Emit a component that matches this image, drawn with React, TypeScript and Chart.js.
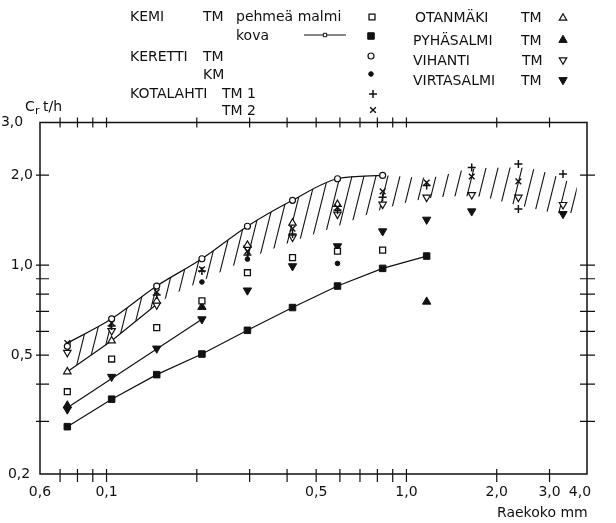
import React, { useEffect, useRef } from 'react';
import { Chart, registerables } from 'chart.js';
import { drawPoint } from 'chart.js/helpers';

Chart.register(...registerables);

// Sieve openings (mm) of the measured size fractions
const sieveMm = [0.074, 0.104, 0.147, 0.208, 0.295, 0.417, 0.589, 0.833, 1.168, 1.651, 2.362, 3.327];

// Capacity C_r (t/h) per size fraction, null where no reading
const kemiSoft = [0.377, 0.485, 0.618, 0.759, 0.943, 1.059, 1.113, 1.122, null, null, null, null];
const kemiHard = [0.288, 0.356, 0.43, 0.504, 0.605, 0.721, 0.851, 0.975, 1.072, null, null, null];
const kerettiTM = [0.535, 0.661, 0.851, 1.05, 1.349, 1.647, 1.945, 1.995, null, null, null, null];
const kerettiKM = [null, null, null, 0.878, 1.047, null, 1.013, null, null, null, null, null];
const kotalahtiTM1 = [null, 0.626, 0.794, 0.955, 1.08, 1.27, 1.525, 1.686, 1.848, 2.122, 2.18, 2.016];
const kotalahtiTM1Repeat = [null, null, null, null, null, null, null, null, null, null, 1.54, null];
const kotalahtiTM2 = [0.548, 0.641, 0.813, 0.968, 1.113, 1.325, 1.56, 1.765, 1.89, 1.979, 1.905, null];
const otanmaki = [0.44, 0.558, 0.759, null, 1.166, 1.383, 1.597, null, null, null, null, null];
const pyhasalmi = [0.339, null, null, 0.724, null, null, null, null, 0.754, null, null, null];
const vihanti = [0.51, 0.603, 0.736, null, 1.139, 1.24, 1.479, 1.597, 1.685, 1.72, 1.685, 1.593];
const virtasalmi = [0.329, 0.423, 0.526, 0.659, 0.823, 0.992, 1.157, 1.298, 1.42, 1.514, null, 1.483];

// Straight fit through the fine Virtasalmi fractions
const fitX = [0.074, 0.208];
const fitY = [0.333, 0.659];

// Envelope of the soft ores
const envelopeTop = [0.548, 0.661, 0.851, 1.05, 1.349, 1.647, 1.945, 1.995];
const envelopeLow = [0.44, 0.558, 0.74];

// Hatched band
const bandX = [0.074, 0.104, 0.147, 0.208, 0.295, 0.417, 0.589, 0.833, 1.168, 1.651, 2.362, 3.327, 3.7];
const bandTop = [0.548, 0.661, 0.851, 1.05, 1.349, 1.647, 1.945, 1.995, 1.96, 2.1, 2.12, 1.94, 1.82];
const bandLow = [0.44, 0.558, 0.74, 0.884, 1.047, 1.2, 1.35, 1.537, 1.67, 1.7, 1.585, 1.49, 1.5];

// Axes (trailing spaces nudge a few labels off their tick, as printed)
const xTicks = [0.06, 0.07, 0.08, 0.09, 0.1, 0.2, 0.3, 0.4, 0.5, 0.6, 0.7, 0.8, 0.9, 1, 2, 3, 4];
const xTickLabels = ['0,6', '', '', '', '0,1', '', '', '', '0,5', '', '', '', '', '1,0', '2,0', '3,0', '4,0\u2002\u2002'];
const yTicks = [0.2, 0.3, 0.4, 0.5, 0.6, 0.7, 0.8, 0.9, 1, 2, 3];
const yTickLabels = ['0,2\u2009', '', '', '0,5', '', '', '', '', '1,0', '2,0', '3,0\u2002\u2009'];

const FONT = '"DejaVu Sans", sans-serif';
const INK = '#111';

const pts = (xs: number[], ys: (number | null)[]) =>
  xs.map((x, i) => (ys[i] == null ? null : { x, y: ys[i] as number })).filter(Boolean) as { x: number; y: number }[];

type Sym = { pointStyle: string; r: number; fill: string; rot?: number; bw: number };
const sym = {
  kemiSoft: { pointStyle: 'rect', r: 4.2, fill: '#fff', bw: 1.3 },
  kemiHard: { pointStyle: 'rect', r: 4.6, fill: INK, bw: 1 },
  kerettiTM: { pointStyle: 'circle', r: 3, fill: '#fff', bw: 1.2 },
  kerettiKM: { pointStyle: 'circle', r: 2.3, fill: INK, bw: 1 },
  tm1: { pointStyle: 'cross', r: 4, fill: INK, bw: 1.5 },
  tm2: { pointStyle: 'crossRot', r: 4, fill: INK, bw: 1.4 },
  otanmaki: { pointStyle: 'triangle', r: 4.3, fill: '#fff', bw: 1.2 },
  pyhasalmi: { pointStyle: 'triangle', r: 4.8, fill: INK, bw: 1 },
  vihanti: { pointStyle: 'triangle', r: 4.3, fill: '#fff', rot: 180, bw: 1.2 },
  virtasalmi: { pointStyle: 'triangle', r: 4.8, fill: INK, rot: 180, bw: 1 },
} as Record<string, Sym>;

const markerSet = (label: string, data: { x: number; y: number }[], s: Sym) => ({
  type: 'scatter' as const,
  label,
  data,
  order: 0,
  pointStyle: s.pointStyle,
  pointRadius: s.r,
  pointRotation: s.rot || 0,
  pointBackgroundColor: s.fill,
  pointBorderColor: INK,
  pointBorderWidth: s.bw,
  showLine: false,
});

const lineSet = (label: string, data: { x: number; y: number }[], smooth = false) => ({
  type: 'line' as const,
  label,
  data,
  order: 1,
  borderColor: INK,
  borderWidth: 1.2,
  pointRadius: 0,
  fill: false,
  cubicInterpolationMode: smooth ? ('monotone' as const) : ('default' as const),
});

function makeHatch(): CanvasPattern | string {
  const w = 12;
  const h = 48;
  const tile = document.createElement('canvas');
  tile.width = w;
  tile.height = h;
  const c = tile.getContext('2d');
  if (!c) return 'rgba(0,0,0,0.2)';
  c.strokeStyle = INK;
  c.lineWidth = 1.1;
  for (const off of [-w, 0, w]) {
    c.beginPath();
    c.moveTo(off, h);
    c.lineTo(off + w, 0);
    c.stroke();
  }
  return c.createPattern(tile, 'repeat') || 'rgba(0,0,0,0.2)';
}

const decorations = {
  id: 'decorations',
  afterDraw(chart: Chart) {
    const { ctx, chartArea: a } = chart;
    const sx = chart.scales.x;
    const sy = chart.scales.y;
    ctx.save();
    ctx.strokeStyle = INK;
    ctx.fillStyle = INK;

    // frame
    ctx.lineWidth = 1.5;
    ctx.strokeRect(a.left, a.top, a.right - a.left, a.bottom - a.top);

    // tick marks crossing the frame
    ctx.lineWidth = 1.2;
    ctx.beginPath();
    xTicks.forEach((v, i) => {
      if (i === 0 || i === xTicks.length - 1) return;
      const px = sx.getPixelForValue(v);
      ctx.moveTo(px, a.bottom - 5);
      ctx.lineTo(px, a.bottom + 8);
      ctx.moveTo(px, a.top - 5);
      ctx.lineTo(px, a.top + 5);
    });
    yTicks.forEach((v, i) => {
      if (i === 0 || i === yTicks.length - 1) return;
      const py = sy.getPixelForValue(v);
      ctx.moveTo(a.left - 4, py);
      ctx.lineTo(a.left + 9, py);
      ctx.moveTo(a.right - 7, py);
      ctx.lineTo(a.right + 8, py);
    });
    ctx.stroke();

    // axis titles
    ctx.font = `14px ${FONT}`;
    ctx.textBaseline = 'alphabetic';
    ctx.textAlign = 'left';
    ctx.fillText('C', 25, 111);
    ctx.font = `11px ${FONT}`;
    ctx.fillText('r', 35, 114);
    ctx.font = `14px ${FONT}`;
    ctx.fillText('t/h', 43, 111);
    ctx.fillText('Raekoko mm', 497, 517);

    // legend
    const t = (s: string, x: number, y: number) => ctx.fillText(s, x, y + 5);
    const mark = (s: Sym, x: number, y: number) => {
      ctx.fillStyle = s.fill;
      ctx.strokeStyle = INK;
      ctx.lineWidth = s.bw;
      drawPoint(ctx, { pointStyle: s.pointStyle as any, radius: s.r, rotation: s.rot || 0, borderWidth: s.bw }, x, y);
      ctx.fillStyle = INK;
    };
    const rowsL = [16, 35, 56, 74, 93, 110];
    const rowsR = [17, 40, 60, 80];
    t('KEMI', 130, rowsL[0]);
    t('TM', 203, rowsL[0]);
    t('pehmeä malmi', 236, rowsL[0]);
    mark(sym.kemiSoft, 372, rowsL[0] + 1);
    t('kova', 236, rowsL[1]);
    ctx.lineWidth = 1.2;
    ctx.beginPath();
    ctx.moveTo(304, rowsL[1]);
    ctx.lineTo(346, rowsL[1]);
    ctx.stroke();
    mark({ pointStyle: 'rect', r: 2.4, fill: '#fff', bw: 1 }, 325, rowsL[1]);
    mark(sym.kemiHard, 371, rowsL[1] + 1);
    t('KERETTI', 130, rowsL[2]);
    t('TM', 203, rowsL[2]);
    mark(sym.kerettiTM, 371, rowsL[2]);
    t('KM', 203, rowsL[3]);
    mark(sym.kerettiKM, 371, rowsL[3]);
    t('KOTALAHTI', 130, rowsL[4]);
    t('TM 1', 222, rowsL[4]);
    mark(sym.tm1, 373, rowsL[4] + 1);
    t('TM 2', 222, rowsL[5]);
    mark(sym.tm2, 373, rowsL[5]);

    t('OTANMÄKI', 415, rowsR[0]);
    t('TM', 521, rowsR[0]);
    mark(sym.otanmaki, 563, rowsR[0] + 1);
    t('PYHÄSALMI', 413, rowsR[1]);
    t('TM', 521, rowsR[1]);
    mark(sym.pyhasalmi, 563, rowsR[1]);
    t('VIHANTI', 413, rowsR[2]);
    t('TM', 522, rowsR[2]);
    mark(sym.vihanti, 563, rowsR[2]);
    t('VIRTASALMI', 413, rowsR[3]);
    t('TM', 521, rowsR[3]);
    mark(sym.virtasalmi, 563, rowsR[3]);
    ctx.restore();
  },
};

export default function App() {
  const ref = useRef<HTMLCanvasElement>(null);

  useEffect(() => {
    const canvas = ref.current;
    if (!canvas) return;
    const hatch = makeHatch();

    const chart = new Chart(canvas, {
      type: 'scatter',
      data: {
        datasets: [
          {
            type: 'line',
            label: 'band top',
            data: pts(bandX, bandTop),
            order: 2,
            borderWidth: 0,
            borderColor: 'rgba(0,0,0,0)',
            backgroundColor: hatch as any,
            pointRadius: 0,
            fill: '+1',
            cubicInterpolationMode: 'monotone',
          },
          {
            type: 'line',
            label: 'band low',
            data: pts(bandX, bandLow),
            order: 2,
            borderWidth: 0,
            borderColor: 'rgba(0,0,0,0)',
            pointRadius: 0,
            fill: false,
            cubicInterpolationMode: 'monotone',
          },
          lineSet('envelope top', pts(sieveMm, envelopeTop), true),
          lineSet('envelope low', pts(sieveMm, envelopeLow)),
          lineSet('fit', pts(fitX, fitY)),
          lineSet('KEMI kova', pts(sieveMm, kemiHard)),
          markerSet('KEMI TM pehmeä malmi', pts(sieveMm, kemiSoft), sym.kemiSoft),
          markerSet('KEMI kova', pts(sieveMm, kemiHard), sym.kemiHard),
          markerSet('KERETTI TM', pts(sieveMm, kerettiTM), sym.kerettiTM),
          markerSet('KERETTI KM', pts(sieveMm, kerettiKM), sym.kerettiKM),
          markerSet('KOTALAHTI TM 1', pts(sieveMm, kotalahtiTM1).concat(pts(sieveMm, kotalahtiTM1Repeat)), sym.tm1),
          markerSet('KOTALAHTI TM 2', pts(sieveMm, kotalahtiTM2), sym.tm2),
          markerSet('OTANMÄKI TM', pts(sieveMm, otanmaki), sym.otanmaki),
          markerSet('PYHÄSALMI TM', pts(sieveMm, pyhasalmi), sym.pyhasalmi),
          markerSet('VIHANTI TM', pts(sieveMm, vihanti), sym.vihanti),
          markerSet('VIRTASALMI TM', pts(sieveMm, virtasalmi), sym.virtasalmi),
        ] as any,
      },
      options: {
        responsive: false,
        devicePixelRatio: 1,
        animation: false,
        layout: { padding: 0 },
        plugins: {
          legend: { display: false },
          tooltip: { enabled: false },
        },
        scales: {
          x: {
            type: 'logarithmic',
            position: 'bottom',
            min: 0.06,
            max: 4,
            afterBuildTicks: (s: any) => {
              s.ticks = xTicks.map((value) => ({ value }));
            },
            afterFit: (s: any) => {
              s.height = 49;
            },
            grid: { display: false, drawTicks: false },
            border: { display: false },
            ticks: {
              autoSkip: false,
              maxRotation: 0,
              padding: 10,
              color: INK,
              font: { family: FONT, size: 14 },
              callback: (_v: any, i: number) => xTickLabels[i],
            },
          },
          x2: {
            type: 'logarithmic',
            position: 'top',
            min: 0.06,
            max: 4,
            afterFit: (s: any) => {
              s.height = 122.5;
            },
            grid: { display: false, drawTicks: false },
            border: { display: false },
            ticks: { display: false },
          },
          y: {
            type: 'logarithmic',
            position: 'left',
            min: 0.2,
            max: 3,
            afterBuildTicks: (s: any) => {
              s.ticks = yTicks.map((value) => ({ value }));
            },
            afterFit: (s: any) => {
              s.width = 40;
            },
            grid: { display: false, drawTicks: false },
            border: { display: false },
            ticks: {
              autoSkip: false,
              padding: 7,
              color: INK,
              font: { family: FONT, size: 14 },
              callback: (_v: any, i: number) => yTickLabels[i],
            },
          },
          y2: {
            type: 'logarithmic',
            position: 'right',
            min: 0.2,
            max: 3,
            afterFit: (s: any) => {
              s.width = 29;
            },
            grid: { display: false, drawTicks: false },
            border: { display: false },
            ticks: { display: false },
          },
        },
      } as any,
      plugins: [decorations],
    });

    return () => chart.destroy();
  }, []);

  return (
    <div style={{ position: 'absolute', left: 0, top: 0, width: 616, height: 523, background: '#fff' }}>
      <canvas ref={ref} width={616} height={523} style={{ display: 'block', width: 616, height: 523 }} />
    </div>
  );
}
